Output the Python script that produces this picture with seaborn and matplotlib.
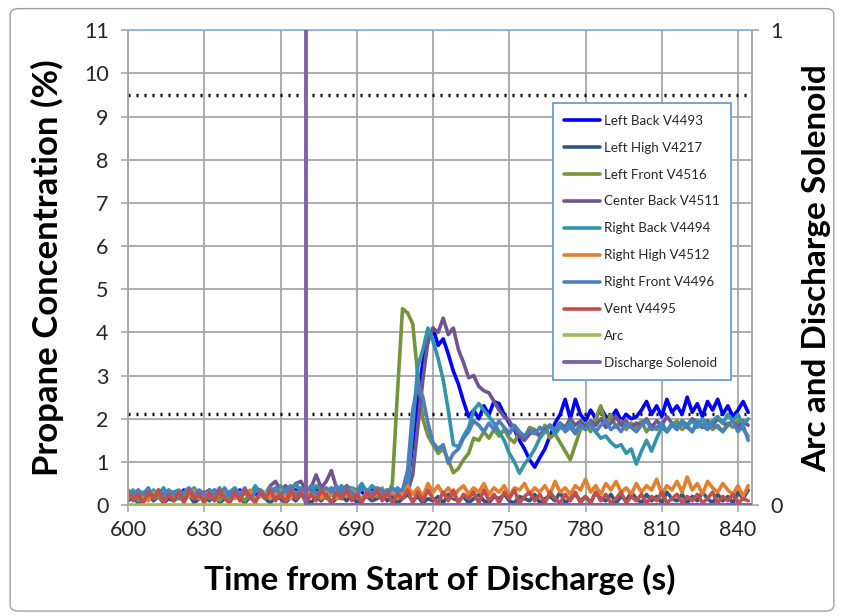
import numpy as np
import pandas as pd
import matplotlib.pyplot as plt
import seaborn as sns
from matplotlib.patches import FancyBboxPatch

# time base of the gas sensors (s), one sample every 2 s
time_s = np.arange(600, 845, 2)

left_back = [
    0.20, 0.30, 0.15, 0.25, 0.35, 0.20, 0.30, 0.15, 0.25, 0.30,
    0.20, 0.35, 0.25, 0.15, 0.30, 0.25, 0.35, 0.20, 0.30, 0.25,
    0.30, 0.20, 0.35, 0.25, 0.30, 0.20, 0.35, 0.25, 0.30, 0.35,
    0.25, 0.40, 0.30, 0.35, 0.25, 0.40, 0.30, 0.35, 0.25, 0.30,
    0.35, 0.25, 0.40, 0.30, 0.25, 0.35, 0.30, 0.20, 0.35, 0.30,
    0.25, 0.35, 0.30, 0.35, 0.30, 0.50, 1.40, 2.50, 3.30, 3.80,
    4.10, 3.70, 3.85, 3.50, 3.10, 2.80, 2.40, 2.05, 2.20, 2.00,
    2.30, 2.10, 2.40, 2.35, 2.10, 1.90, 1.75, 1.50, 1.30, 1.05,
    0.88, 1.10, 1.30, 1.60, 1.90, 2.10, 2.45, 2.00, 2.45, 2.10,
    1.95, 2.20, 2.00, 2.25, 2.05, 2.00, 2.20, 1.95, 2.10, 2.00,
    2.05, 2.20, 2.40, 2.10, 2.30, 2.05, 2.45, 2.15, 2.30, 2.10,
    2.50, 2.15, 2.35, 2.05, 2.40, 2.20, 2.45, 2.10, 2.30, 2.05,
    2.20, 2.40, 2.15,
]
left_high = [
    0.10, 0.20, 0.05, 0.15, 0.25, 0.10, 0.20, 0.05, 0.15, 0.10,
    0.20, 0.10, 0.25, 0.05, 0.15, 0.20, 0.10, 0.25, 0.05, 0.15,
    0.10, 0.25, 0.15, 0.05, 0.20, 0.10, 0.25, 0.15, 0.05, 0.20,
    0.15, 0.05, 0.20, 0.10, 0.25, 0.15, 0.05, 0.20, 0.10, 0.25,
    0.05, 0.15, 0.20, 0.10, 0.25, 0.05, 0.15, 0.20, 0.10, 0.15,
    0.25, 0.10, 0.20, 0.05, 0.15, 0.25, 0.10, 0.20, 0.05, 0.15,
    0.10, 0.20, 0.05, 0.25, 0.15, 0.10, 0.20, 0.05, 0.15, 0.25,
    0.10, 0.05, 0.20, 0.15, 0.25, 0.10, 0.05, 0.20, 0.15, 0.10,
    0.25, 0.05, 0.15, 0.20, 0.10, 0.30, 0.05, 0.15, 0.25, 0.10,
    0.20, 0.05, 0.30, 0.15, 0.10, 0.25, 0.05, 0.20, 0.10, 0.30,
    0.15, 0.05, 0.25, 0.10, 0.20, 0.05, 0.30, 0.15, 0.10, 0.25,
    0.05, 0.20, 0.10, 0.30, 0.15, 0.05, 0.25, 0.10, 0.20, 0.05,
    0.30, 0.15, 0.35,
]
left_front = [
    0.15, 0.25, 0.10, 0.20, 0.30, 0.15, 0.20, 0.10, 0.25, 0.15,
    0.20, 0.10, 0.25, 0.15, 0.20, 0.30, 0.15, 0.20, 0.10, 0.25,
    0.15, 0.25, 0.20, 0.10, 0.30, 0.15, 0.25, 0.20, 0.15, 0.30,
    0.20, 0.15, 0.30, 0.20, 0.25, 0.15, 0.30, 0.20, 0.25, 0.15,
    0.25, 0.20, 0.15, 0.30, 0.20, 0.25, 0.15, 0.20, 0.30, 0.20,
    0.25, 0.20, 0.50, 2.60, 4.55, 4.45, 4.20, 3.00, 2.00, 1.60,
    1.40, 1.20, 1.30, 1.05, 0.75, 0.85, 1.05, 1.20, 1.55, 1.50,
    1.70, 1.55, 1.75, 1.60, 1.75, 1.55, 1.45, 1.70, 1.55, 1.80,
    1.75, 1.60, 1.85, 1.55, 1.65, 1.45, 1.25, 1.05, 1.40, 1.75,
    1.90, 1.70, 2.00, 2.30, 1.85, 2.10, 1.80, 1.95, 1.75, 1.90,
    1.80, 1.95, 1.70, 1.85, 1.75, 1.90, 1.70, 1.85, 1.95, 1.75,
    1.85, 1.70, 1.90, 1.80, 1.95, 1.75, 1.85, 1.70, 1.90, 1.80,
    1.95, 1.75, 1.60,
]
center_back = [
    0.20, 0.30, 0.25, 0.15, 0.30, 0.20, 0.35, 0.25, 0.20, 0.30,
    0.25, 0.20, 0.30, 0.35, 0.20, 0.30, 0.25, 0.35, 0.20, 0.30,
    0.25, 0.35, 0.20, 0.30, 0.25, 0.35, 0.30, 0.25, 0.45, 0.55,
    0.35, 0.45, 0.30, 0.50, 0.55, 0.35, 0.40, 0.70, 0.40, 0.55,
    0.80, 0.40, 0.30, 0.45, 0.35, 0.30, 0.40, 0.35, 0.30, 0.25,
    0.30, 0.25, 0.35, 0.30, 0.35, 0.30, 0.70, 1.80, 2.90, 3.80,
    4.10, 4.00, 4.33, 3.95, 4.10, 3.60, 3.30, 2.95, 3.00, 2.75,
    2.65, 2.60, 2.40, 2.20, 2.05, 1.95, 1.75, 1.60, 1.50, 1.65,
    1.70, 1.60, 1.75, 1.85, 1.70, 1.90, 1.80, 2.00, 1.85, 1.95,
    1.80, 1.95, 1.85, 2.00, 1.80, 1.90, 2.05, 1.85, 1.95, 1.80,
    1.90, 1.85, 2.00, 1.80, 1.95, 1.85, 2.05, 1.90, 1.80, 1.95,
    1.85, 2.00, 1.90, 1.80, 1.95, 1.85, 2.00, 1.90, 1.85, 1.95,
    1.80, 1.95, 1.85,
]
right_back = [
    0.25, 0.35, 0.20, 0.30, 0.15, 0.35, 0.25, 0.40, 0.20, 0.30,
    0.35, 0.20, 0.30, 0.40, 0.25, 0.15, 0.35, 0.25, 0.40, 0.20,
    0.30, 0.40, 0.25, 0.35, 0.20, 0.45, 0.30, 0.25, 0.40, 0.30,
    0.45, 0.25, 0.35, 0.50, 0.30, 0.40, 0.25, 0.45, 0.35, 0.30,
    0.40, 0.25, 0.45, 0.30, 0.40, 0.35, 0.50, 0.30, 0.45, 0.35,
    0.30, 0.35, 0.25, 0.40, 0.30, 0.40, 1.80, 3.20, 3.60, 4.10,
    3.80, 3.40, 2.90, 2.20, 1.40, 1.35, 1.60, 1.80, 2.20, 2.35,
    2.20, 2.05, 1.90, 1.70, 1.50, 1.20, 1.00, 0.74, 0.95, 1.10,
    1.30, 1.55, 1.70, 1.85, 1.65, 1.80, 1.75, 1.90, 1.70, 1.85,
    1.75, 1.90, 1.70, 1.55, 1.60, 1.45, 1.35, 1.40, 1.20, 1.30,
    0.95, 1.25, 1.50, 1.25, 1.55, 1.80, 1.70, 1.90, 1.80, 1.95,
    1.85, 1.95, 1.80, 2.00, 1.85, 1.95, 2.05, 1.90, 2.10, 1.95,
    2.10, 1.85, 2.00,
]
right_high = [
    0.30, 0.15, 0.35, 0.20, 0.10, 0.30, 0.25, 0.15, 0.35, 0.20,
    0.15, 0.30, 0.20, 0.35, 0.15, 0.25, 0.30, 0.10, 0.25, 0.35,
    0.20, 0.15, 0.30, 0.25, 0.35, 0.15, 0.20, 0.30, 0.15, 0.25,
    0.35, 0.20, 0.15, 0.30, 0.25, 0.40, 0.20, 0.30, 0.15, 0.35,
    0.25, 0.15, 0.30, 0.20, 0.35, 0.25, 0.15, 0.30, 0.20, 0.25,
    0.40, 0.20, 0.35, 0.15, 0.30, 0.45, 0.25, 0.40, 0.20, 0.50,
    0.30, 0.45, 0.25, 0.40, 0.20, 0.35, 0.45, 0.25, 0.40, 0.30,
    0.50, 0.25, 0.40, 0.30, 0.45, 0.20, 0.40, 0.35, 0.50, 0.25,
    0.40, 0.30, 0.45, 0.25, 0.55, 0.30, 0.40, 0.25, 0.45, 0.35,
    0.60, 0.30, 0.45, 0.25, 0.50, 0.35, 0.55, 0.30, 0.40, 0.25,
    0.50, 0.30, 0.45, 0.35, 0.60, 0.25, 0.45, 0.35, 0.55, 0.30,
    0.65, 0.35, 0.50, 0.25, 0.55, 0.40, 0.30, 0.50, 0.35, 0.25,
    0.45, 0.20, 0.45,
]
right_front = [
    0.30, 0.20, 0.35, 0.25, 0.40, 0.15, 0.30, 0.20, 0.35, 0.25,
    0.15, 0.30, 0.40, 0.20, 0.35, 0.25, 0.15, 0.35, 0.25, 0.40,
    0.20, 0.35, 0.25, 0.40, 0.15, 0.30, 0.35, 0.20, 0.30, 0.40,
    0.25, 0.35, 0.45, 0.20, 0.40, 0.30, 0.45, 0.25, 0.35, 0.40,
    0.30, 0.45, 0.25, 0.40, 0.30, 0.20, 0.40, 0.35, 0.25, 0.40,
    0.35, 0.25, 0.40, 0.30, 0.35, 0.80, 2.20, 2.80, 2.50, 1.90,
    1.45, 1.30, 1.40, 0.97, 1.20, 1.30, 1.55, 1.70, 1.95, 1.85,
    1.70, 1.90, 1.75, 1.95, 1.80, 1.65, 1.85, 1.70, 1.60, 1.75,
    1.65, 1.80, 1.70, 1.85, 1.75, 1.90, 1.70, 1.80, 1.65, 1.85,
    1.75, 1.90, 1.70, 1.85, 1.95, 1.75, 1.85, 1.70, 1.90, 1.80,
    1.70, 1.85, 1.95, 1.75, 1.80, 1.90, 1.70, 1.85, 1.75, 1.90,
    1.80, 1.70, 1.95, 1.85, 1.75, 1.90, 1.80, 1.70, 1.85, 1.95,
    1.70, 1.85, 1.50,
]
vent = [
    0.35, 0.10, 0.25, 0.05, 0.30, 0.15, 0.35, 0.05, 0.25, 0.10,
    0.30, 0.05, 0.35, 0.15, 0.25, 0.05, 0.30, 0.10, 0.35, 0.15,
    0.05, 0.30, 0.10, 0.35, 0.20, 0.05, 0.30, 0.15, 0.35, 0.10,
    0.25, 0.05, 0.35, 0.15, 0.30, 0.05, 0.25, 0.10, 0.35, 0.20,
    0.05, 0.30, 0.15, 0.35, 0.10, 0.25, 0.05, 0.30, 0.15, 0.35,
    0.10, 0.30, 0.05, 0.25, 0.15, 0.35, 0.05, 0.30, 0.10, 0.35,
    0.15, 0.05, 0.30, 0.10, 0.35, 0.05, 0.25, 0.15, 0.30, 0.05,
    0.35, 0.10, 0.25, 0.05, 0.30, 0.15, 0.35, 0.05, 0.20, 0.30,
    0.10, 0.25, 0.05, 0.30, 0.15, 0.05, 0.25, 0.10, 0.30, 0.05,
    0.20, 0.05, 0.30, 0.10, 0.25, 0.05, 0.15, 0.30, 0.05, 0.20,
    0.10, 0.25, 0.05, 0.20, 0.10, 0.30, 0.05, 0.15, 0.25, 0.05,
    0.20, 0.10, 0.25, 0.05, 0.15, 0.30, 0.05, 0.20, 0.10, 0.25,
    0.05, 0.15, 0.10,
]

# secondary axis signals (0 = off, 1 = on)
arc_t = [600, 845]
arc_v = [0, 0]
solenoid_t = [670, 670, 845]
solenoid_v = [1, 0, 0]

# LFL reference lines (%)
ref_levels = [9.5, 2.1]

sensors = [
    ("Left Back V4493", left_back, "#0000FF"),
    ("Left High V4217", left_high, "#2B5788"),
    ("Left Front V4516", left_front, "#77933C"),
    ("Center Back V4511", center_back, "#6F5590"),
    ("Right Back V4494", right_back, "#3194AB"),
    ("Right High V4512", right_high, "#E47F2F"),
    ("Right Front V4496", right_front, "#4A7FC1"),
    ("Vent V4495", vent, "#C0504D"),
]

sns.set_theme(style="whitegrid")
plt.rcParams["font.family"] = ["Lato", "DejaVu Sans"]

fig = plt.figure(figsize=(8.44, 6.16), dpi=100)
ax = fig.add_axes([0.1517, 0.180, 0.7393, 0.771])

for y in ref_levels:
    ax.axhline(y, color="black", lw=2.4, ls=(0, (0.6, 1.8)), zorder=1.5)

for name, vals, col in sensors:
    sns.lineplot(x=time_s, y=vals, ax=ax, color=col, lw=2.6, label=name,
                 estimator=None, sort=False, legend=False)

ax.set_xlim(600, 845.5)
ax.set_ylim(0, 11)
ax.set_xticks(range(600, 841, 30))
ax.set_yticks(range(0, 12))
ax.grid(True, color="#A6A6A6", lw=1.3)
ax.set_facecolor("white")
for s in ["left", "bottom", "right"]:
    ax.spines[s].set_color("#A6A6A6")
    ax.spines[s].set_linewidth(1.3)
ax.spines["top"].set_color("#8DB3E2")
ax.spines["top"].set_linewidth(1.3)
ax.tick_params(axis="both", labelsize=15.5, colors="#262626", length=5,
               width=1.2, direction="out", pad=6, bottom=True, left=True)
ax.tick_params(axis="y", pad=9)
ax.tick_params(axis="both", color="#A6A6A6")
ax.set_xlabel("Time from Start of Discharge (s)", fontsize=24, fontweight="bold",
              labelpad=17, color="black")
ax.set_ylabel("Propane Concentration (%)", fontsize=25, fontweight="bold",
              labelpad=14, color="black")

ax2 = ax.twinx()
sns.lineplot(x=arc_t, y=arc_v, ax=ax2, color="#9BBB59", lw=2.6, label="Arc",
             estimator=None, sort=False, legend=False)
sns.lineplot(x=solenoid_t, y=solenoid_v, ax=ax2, color="#8064A2", lw=2.8,
             label="Discharge Solenoid", estimator=None, sort=False, legend=False)
ax2.set_ylim(0, 1)
ax2.set_yticks([0, 1])
ax2.grid(False)
for s in ax2.spines.values():
    s.set_visible(False)
ax2.tick_params(axis="y", labelsize=15.5, colors="#262626", length=5, width=1.2,
                direction="out", pad=8, right=True)
ax2.tick_params(axis="y", color="#A6A6A6")
ax2.set_ylabel("Arc and Discharge Solenoid", fontsize=24, fontweight="bold",
               labelpad=14, color="black")

handles = ax.get_lines()[len(ref_levels):] + ax2.get_lines()
labels = [h.get_label() for h in handles]
leg = ax2.legend(handles, labels, loc="upper left", bbox_to_anchor=(0.681, 0.846),
                 borderaxespad=0, fontsize=9.6, frameon=True, fancybox=False,
                 edgecolor="#6D9BD1", framealpha=1, handlelength=2.7,
                 labelspacing=1.12, borderpad=0.85, handletextpad=0.3)
leg.get_frame().set_linewidth(1.3)

# outer chart border
fig.patches.append(FancyBboxPatch((0.012, 0.008), 0.976, 0.978,
                                  boxstyle="round,pad=0,rounding_size=0.01",
                                  transform=fig.transFigure, fill=False,
                                  edgecolor="#A0A0A0", lw=1.0))

fig.savefig("out.png", dpi=100)
